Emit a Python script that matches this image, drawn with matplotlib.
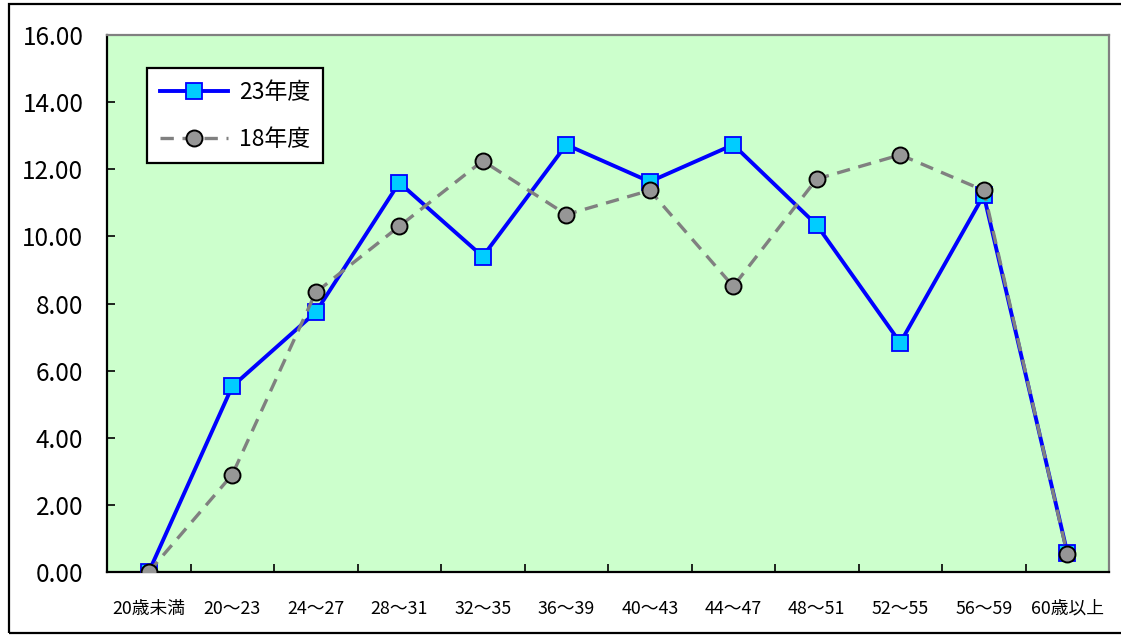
import matplotlib
matplotlib.use("Agg")
import matplotlib.pyplot as plt
from matplotlib.patches import Rectangle
from matplotlib.lines import Line2D

plt.rcParams['font.family'] = ['Noto Sans CJK JP', 'DejaVu Sans']

# Age brackets (x axis categories)
categories = ['20歳未満', '20～23', '24～27', '28～31', '32～35', '36～39',
              '40～43', '44～47', '48～51', '52～55', '56～59', '60歳以上']

# Share per age bracket for each fiscal year
fy23 = [0.00, 5.53, 7.74, 11.60, 9.40, 12.73, 11.63, 12.73, 10.34, 6.83, 11.23, 0.58]
fy18 = [0.00, 2.90, 8.33, 10.30, 12.25, 10.65, 11.37, 8.51, 11.71, 12.43, 11.37, 0.53]

series_labels = ['23年度', '18年度']
y_ticks = [0, 2, 4, 6, 8, 10, 12, 14, 16]

W, H = 1121, 635
fig = plt.figure(figsize=(W / 100, H / 100), dpi=100)
fig.patch.set_facecolor('white')

# outer frame around the whole chart
fig.patches.append(Rectangle((9 / W, 2 / H), 1.2, (633 - 4) / H,
                             transform=fig.transFigure, fill=False,
                             edgecolor='black', linewidth=1.6))

ax = fig.add_axes([107 / W, 1 - 572 / H, (1109 - 107) / W, (572 - 35) / H])
ax.set_facecolor('#CCFFCC')

x = list(range(len(categories)))

ax.plot(x, fy23, color='#0000FF', linewidth=2.8, marker='s', markersize=11,
        markerfacecolor='#00CCFF', markeredgecolor='#0000FF',
        markeredgewidth=1.3, zorder=3)
ax.plot(x, fy18, color='#808080', linewidth=2.4, linestyle=(0, (4, 2.6)),
        marker='o', markersize=11.5, markerfacecolor='#969696',
        markeredgecolor='black', markeredgewidth=1.4, zorder=4)

ax.set_xlim(-0.5, len(categories) - 0.5)
ax.set_ylim(0, 16)
ax.set_yticks(y_ticks)
ax.set_yticklabels([f'{v:.2f}' for v in y_ticks], fontsize=17.5)

# category labels centred under each point, ticks drawn between categories
ax.set_xticks([i + 0.5 for i in x[:-1]])
ax.set_xticklabels([])
ax.set_xticks(x, minor=True)
ax.set_xticklabels(categories, minor=True, fontsize=12.8)
ax.tick_params(axis='x', which='minor', length=0, pad=20)
ax.tick_params(axis='x', which='major', direction='in', length=6, width=1.2)
ax.tick_params(axis='y', direction='in', length=6, width=1.2, pad=17)

for side in ('left', 'bottom'):
    ax.spines[side].set_color('black')
    ax.spines[side].set_linewidth(1.6)
for side in ('top', 'right'):
    ax.spines[side].set_color('#808080')
    ax.spines[side].set_linewidth(1.6)

handles = [
    Line2D([], [], color='#0000FF', linewidth=2.8, marker='s', markersize=11,
           markerfacecolor='#00CCFF', markeredgecolor='#0000FF', markeredgewidth=1.3),
    Line2D([], [], color='#808080', linewidth=2.4, linestyle=(0, (4, 2.6)),
           marker='o', markersize=11.5, markerfacecolor='#969696',
           markeredgecolor='black', markeredgewidth=1.4),
]
leg = ax.legend(handles, series_labels, loc='upper left',
                bbox_to_anchor=((147 - 107) / (1109 - 107), 1 - (68 - 35) / (572 - 35)),
                fontsize=16.5, frameon=True, fancybox=False, framealpha=1,
                edgecolor='black', facecolor='white', handlelength=3.0,
                handletextpad=0.45, labelspacing=1.05, borderpad=0.55,
                borderaxespad=0)
leg.get_frame().set_linewidth(1.6)

fig.savefig('out.png', dpi=100)
